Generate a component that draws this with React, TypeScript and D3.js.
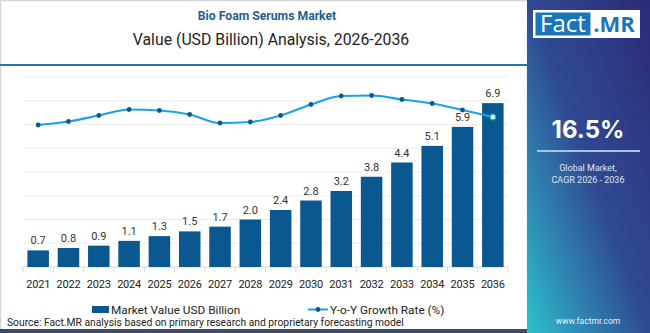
import React from "react";
import * as d3 from "d3";

const years = ["2021","2022","2023","2024","2025","2026","2027","2028","2029","2030","2031","2032","2033","2034","2035","2036"];
const marketValues = [0.7,0.8,0.9,1.1,1.3,1.5,1.7,2.0,2.4,2.8,3.2,3.8,4.4,5.1,5.9,6.9];
const growthRates = [13.0,13.7,14.9,16.1,15.9,15.1,13.4,13.6,14.9,17.1,18.8,18.9,18.1,17.3,16.0,14.6];
const gridValues = [1,2,3,4,5,6,7,8];

const title = "Bio Foam Serums Market";
const subtitle = "Value (USD Billion) Analysis, 2026-2036";
const legendBar = "Market Value USD Billion";
const legendLine = "Y-o-Y Growth Rate (%)";
const sourceText = "Source: Fact.MR analysis based on primary research and proprietary forecasting model";
const cagrValue = "16.5%";
const cagrLabel1 = "Global Market,";
const cagrLabel2 = "CAGR 2026 - 2036";
const website = "www.factmr.com";

const FONT = "Roboto, 'Open Sans', sans-serif";

export default function App() {
  const W = 650, H = 333;
  const x = d3.scaleBand<string>().domain(years).range([23, 508]).paddingInner(0.29).paddingOuter(0.145);
  const y = d3.scaleLinear().domain([0, 8]).range([267, 77]);
  const yg = d3.scaleLinear().domain([12, 20]).range([130, 90]);
  const step = x.step();
  const bw = x.bandwidth();
  const cx = (d: string) => (x(d) as number) + bw / 2;
  const line = d3.line<number>().x((_, i) => cx(years[i])).y(d => yg(d)).curve(d3.curveMonotoneX);
  const tickXs = years.map(d => (x(d) as number) - step * 0.145).concat([(x(years[years.length - 1]) as number) + bw + step * 0.145]);

  return (
    <svg width={W} height={H} style={{ position: "absolute", left: 0, top: 0, fontFamily: FONT }}>
      <defs>
        <linearGradient id="panel" x1="1" y1="0" x2="0" y2="1">
          <stop offset="0" stopColor="#2c2a78" />
          <stop offset="0.5" stopColor="#2f4a92" />
          <stop offset="0.8" stopColor="#2f8fb6" />
          <stop offset="1" stopColor="#2cc2cc" />
        </linearGradient>
      </defs>
      <rect x={0} y={0} width={W} height={H} fill="#ffffff" />
      <rect x={0.5} y={0.5} width={527} height={330} fill="none" stroke="#d6d6d6" strokeWidth={1.5} />
      <rect x={0} y={329} width={527} height={4} fill="#3e4a66" />
      {/* title */}
      <text x={267} y={20} textAnchor="middle" fontSize={12.2} fontWeight={700} fill="#1c5f96">{title}</text>
      <text x={271} y={45} textAnchor="middle" fontSize={15.8} fill="#222">{subtitle}</text>
      <line x1={0} x2={527} y1={65} y2={65} stroke="#2a73a8" strokeWidth={1.8} />
      {/* grid */}
      {gridValues.map(v => (
        <line key={v} x1={24} x2={508} y1={y(v)} y2={y(v)} stroke="#ececec" strokeWidth={1} />
      ))}
      {/* axis */}
      <line x1={23} x2={508} y1={y(0)} y2={y(0)} stroke="#d8d8d8" strokeWidth={1} />
      {tickXs.map((t, i) => (
        <line key={i} x1={t} x2={t} y1={y(0)} y2={y(0) + 5} stroke="#d8d8d8" strokeWidth={1} />
      ))}
      {/* bars */}
      {years.map((d, i) => (
        <rect key={d} x={x(d)} y={y(marketValues[i])} width={bw} height={y(0) - y(marketValues[i])} fill="#0b5790" />
      ))}
      {years.map((d, i) => (
        <text key={d} x={cx(d)} y={y(marketValues[i]) - 6} textAnchor="middle" fontSize={11} fill="#333">{marketValues[i].toFixed(1)}</text>
      ))}
      {years.map(d => (
        <text key={d} x={cx(d)} y={288} textAnchor="middle" fontSize={11} letterSpacing={-0.2} fill="#222">{d}</text>
      ))}
      {/* line */}
      <path d={line(growthRates) || ""} fill="none" stroke="#1aa3e3" strokeWidth={2.2} />
      {growthRates.map((g, i) => (
        i < growthRates.length - 1 ?
          <circle key={i} cx={cx(years[i])} cy={yg(g)} r={2.4} fill="#0b5790" /> :
          <circle key={i} cx={cx(years[i])} cy={yg(g)} r={2.8} fill="#fff" stroke="#1aa3e3" strokeWidth={1.2} />
      ))}
      {/* legend */}
      <rect x={92} y={306} width={17} height={7} fill="#0b5790" />
      <text x={111} y={313.5} fontSize={11.8} fill="#222">{legendBar}</text>
      <line x1={308} x2={328} y1={309.5} y2={309.5} stroke="#1aa3e3" strokeWidth={2} />
      <circle cx={318} cy={309.5} r={2.4} fill="#0b5790" />
      <text x={330} y={313.5} fontSize={11.8} fill="#222">{legendLine}</text>
      <text x={7} y={326} fontSize={10.3} fill="#222">{sourceText}</text>
      {/* right panel */}
      <rect x={527} y={0} width={123} height={H} fill="url(#panel)" />
      <rect x={533} y={10} width={107} height={28} fill="#ffffff" />
      <rect x={535.5} y={12.5} width={55} height={23} fill="#1a76b8" />
      <text x={563} y={32} textAnchor="middle" fontSize={24} fill="#fff" fontFamily="'Open Sans', sans-serif">Fact</text>
      <text x={614} y={32} textAnchor="middle" fontSize={22} fontWeight={700} fill="#1a76b8" fontFamily="'Open Sans', sans-serif">.MR</text>
      <text x={588} y={138} textAnchor="middle" fontSize={24} fontWeight={700} fill="#fff" fontFamily="Inter, sans-serif">{cagrValue}</text>
      <line x1={537} x2={640} y1={151} y2={151} stroke="#a8c2e6" strokeWidth={2} />
      <text x={588} y={171} textAnchor="middle" fontSize={9} fill="#dfe4f2">{cagrLabel1}</text>
      <text x={588} y={182.5} textAnchor="middle" fontSize={9} fill="#dfe4f2">{cagrLabel2}</text>
      <text x={588} y={324} textAnchor="middle" fontSize={8.5} fill="#e6eef6">{website}</text>
    </svg>
  );
}
